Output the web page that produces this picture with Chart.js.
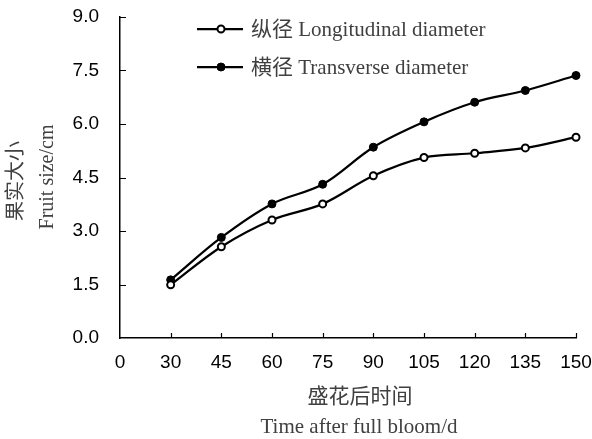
<!DOCTYPE html>
<html>
<head>
<meta charset="utf-8">
<script src="https://cdn.jsdelivr.net/npm/chart.js@4"></script>
<style>
  html, body { margin: 0; padding: 0; background: #fff; }
  #wrap { width: 592px; height: 439px; }
</style>
</head>
<body>
<div id="wrap"><canvas id="chart" width="592" height="439"></canvas></div>
<script>
// x categories (days after full bloom), first one is only the axis start
const days = ["0", "30", "45", "60", "75", "90", "105", "120", "135", "150"];
// fruit size, cm
const longitudinal = [null, 1.49, 2.56, 3.31, 3.76, 4.55, 5.06, 5.18, 5.33, 5.63];
const transverse = [null, 1.63, 2.82, 3.76, 4.31, 5.35, 6.06, 6.61, 6.94, 7.36];
const yTicks = [0, 1.5, 3.0, 4.5, 6.0, 7.5, 9.0];

const serif = "'Liberation Serif', 'Noto Sans CJK SC', serif";
const sans = "'Liberation Sans', Arial, sans-serif";
const textGrey = "#404040";

// ticks pointing inward, axis titles and legend
const extras = {
  id: "extras",
  afterDraw(chart) {
    const ctx = chart.ctx;
    const xs = chart.scales.x, ys = chart.scales.y;
    const area = chart.chartArea;
    ctx.save();
    ctx.strokeStyle = "#000";
    ctx.lineWidth = 1.2;
    ctx.beginPath();
    for (let i = 1; i < days.length; i++) {
      const px = Math.round(xs.getPixelForTick(i)) + 0.5;
      ctx.moveTo(px, area.bottom);
      ctx.lineTo(px, area.bottom - 5);
    }
    for (let i = 1; i < ys.ticks.length; i++) {
      const py = Math.round(ys.getPixelForTick(i)) + 0.5;
      ctx.moveTo(area.left, py);
      ctx.lineTo(area.left + 6, py);
    }
    ctx.stroke();

    // axis titles
    ctx.fillStyle = textGrey;
    ctx.font = "21px " + serif;
    ctx.textAlign = "center";
    ctx.textBaseline = "middle";
    ctx.fillText("盛花后时间", 360, 397);
    ctx.fillText("Time after full bloom/d", 359, 427);

    ctx.font = "20px " + serif;
    ctx.save();
    ctx.translate(17, 181);
    ctx.rotate(-Math.PI / 2);
    ctx.fillText("果实大小", 0, 0);
    ctx.restore();
    ctx.save();
    ctx.translate(48, 177);
    ctx.rotate(-Math.PI / 2);
    ctx.fillText("Fruit size/cm", 0, 0);
    ctx.restore();

    // legend
    const rows = [
      { ds: chart.data.datasets[0], y: 29 },
      { ds: chart.data.datasets[1], y: 67 }
    ];
    rows.forEach(r => {
      ctx.strokeStyle = "#000";
      ctx.lineWidth = 2.25;
      ctx.beginPath();
      ctx.moveTo(197, r.y);
      ctx.lineTo(243, r.y);
      ctx.stroke();
      ctx.beginPath();
      ctx.arc(221, r.y, r.ds.pointRadius, 0, Math.PI * 2);
      ctx.fillStyle = r.ds.pointBackgroundColor;
      ctx.fill();
      ctx.lineWidth = r.ds.pointBorderWidth;
      ctx.stroke();
      ctx.fillStyle = textGrey;
      ctx.font = "21px " + serif;
      ctx.textAlign = "left";
      ctx.textBaseline = "middle";
      ctx.fillText(r.ds.label, 251, r.y + 1);
    });
    ctx.restore();
  }
};

new Chart(document.getElementById("chart"), {
  type: "line",
  data: {
    labels: days,
    datasets: [
      {
        label: "纵径 Longitudinal diameter",
        data: longitudinal,
        borderColor: "#000",
        borderWidth: 2.25,
        tension: 0.35,
        pointRadius: 3.5,
        pointBorderWidth: 2,
        pointBorderColor: "#000",
        pointBackgroundColor: "#fff"
      },
      {
        label: "横径 Transverse diameter",
        data: transverse,
        borderColor: "#000",
        borderWidth: 2.25,
        tension: 0.35,
        pointRadius: 4,
        pointBorderWidth: 1,
        pointBorderColor: "#000",
        pointBackgroundColor: "#000"
      }
    ]
  },
  options: {
    responsive: false,
    animation: false,
    layout: { padding: { left: 0, top: 17, right: 16, bottom: 0 } },
    plugins: { legend: { display: false }, tooltip: { enabled: false } },
    scales: {
      x: {
        type: "category",
        offset: false,
        grid: { display: false, drawTicks: false },
        border: { color: "#000", width: 1.5 },
        ticks: {
          color: "#000",
          font: { family: sans, size: 19 },
          padding: 13,
          maxRotation: 0,
          autoSkip: false
        },
        afterFit(scale) {
          scale.height = 101;
          scale.paddingLeft = 0;
          scale.paddingRight = 0;
        }
      },
      y: {
        min: 0,
        max: 9,
        grid: { display: false, drawTicks: false },
        border: { color: "#000", width: 1.5 },
        afterBuildTicks(scale) { scale.ticks = yTicks.map(v => ({ value: v })); },
        ticks: {
          color: "#000",
          font: { family: sans, size: 19 },
          padding: 21,
          callback: v => Number(v).toFixed(1)
        },
        afterFit(scale) {
          scale.width = 120;
          scale.paddingTop = 0;
          scale.paddingBottom = 0;
        }
      }
    }
  },
  plugins: [extras]
});
</script>
</body>
</html>
